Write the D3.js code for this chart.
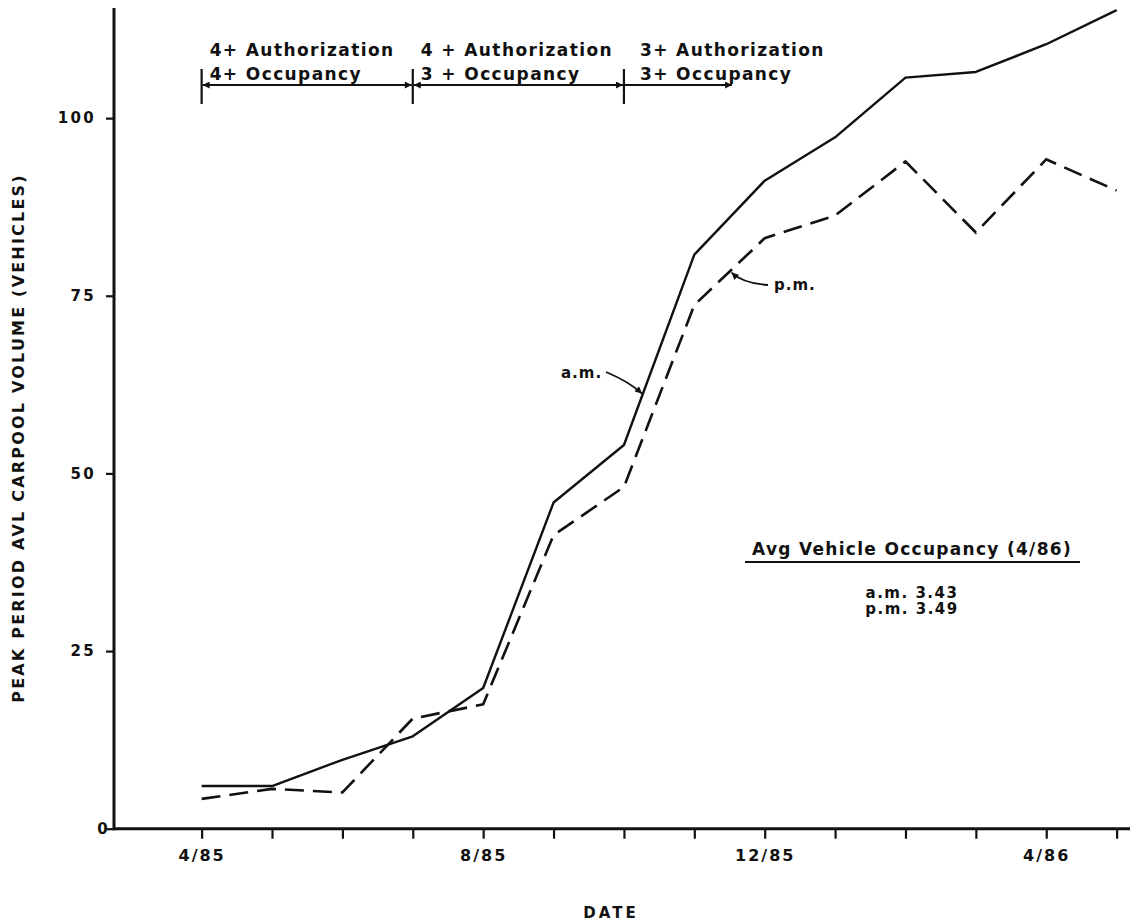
<!DOCTYPE html>
<html><head><meta charset="utf-8">
<script src="https://cdn.jsdelivr.net/npm/d3@7"></script>
<style>
body{margin:0;background:#fff}
svg{display:block}
text{font-family:"DejaVu Sans",sans-serif;fill:#111}
</style>
</head><body><svg id="c" width="1142" height="924"></svg>
<script>
// ---- data ----
const months = ["4/85","5/85","6/85","7/85","8/85","9/85","10/85","11/85","12/85","1/86","2/86","3/86","4/86","5/86"];
const amVolume = [6, 6, 9.7, 13, 19.8, 45.9, 54, 80.8, 91.2, 97.3, 105.7, 106.5, 110.4, 115.2];
const pmVolume = [4.2, 5.6, 5.1, 15.5, 17.5, 41.3, 48.1, 73.7, 83.1, 86.3, 93.9, 83.9, 94.2, 89.8];
const labeledMonths = ["4/85","8/85","12/85","4/86"];
const yTicks = [0, 25, 50, 75, 100];
const phaseStart = [0, 3, 6];
const phaseEnd = [3, 6, 7.55];
const phaseAuth = ["4+ Authorization", "4 + Authorization", "3+ Authorization"];
const phaseOcc = ["4+ Occupancy", "3 + Occupancy", "3+ Occupancy"];
const occTitle = "Avg Vehicle Occupancy (4/86)";
const occLines = ["a.m. 3.43", "p.m. 3.49"];

const svg = d3.select("#c");
const x = d3.scaleLinear().domain([-1.245, 13.19]).range([114, 1130]);
const y = d3.scaleLinear().domain([0, 115.5]).range([828.7, 8]);

// ---- axes ----
const xAxis = d3.axisBottom(x)
  .tickValues(d3.range(months.length))
  .tickSize(10).tickPadding(11)
  .tickFormat(i => labeledMonths.includes(months[i]) ? months[i] : "");
const gx = svg.append("g").attr("transform", `translate(0,${y(0)})`).call(xAxis);
gx.select(".domain").remove();
gx.selectAll(".tick line").attr("stroke", "#111").attr("stroke-width", 2.2);
gx.selectAll(".tick text").attr("font-size", 16).attr("font-weight", "bold")
  .attr("letter-spacing", 2).attr("fill", "#111");

const yAxis = d3.axisLeft(y).tickValues(yTicks).tickSize(8).tickPadding(10);
const gy = svg.append("g").attr("transform", `translate(${x.range()[0]},0)`).call(yAxis);
gy.select(".domain").remove();
gy.selectAll(".tick line").attr("stroke", "#111").attr("stroke-width", 2.2);
gy.selectAll(".tick text").attr("font-size", 15).attr("font-weight", "bold")
  .attr("letter-spacing", 2.3).attr("fill", "#111");
gy.selectAll(".tick").filter(d => d === 0).select("text").attr("x", -4);

// axis lines
svg.append("line").attr("x1", x.range()[0]).attr("x2", x.range()[1])
  .attr("y1", y(0)).attr("y2", y(0)).attr("stroke", "#111").attr("stroke-width", 3);
svg.append("line").attr("x1", x.range()[0]).attr("x2", x.range()[0])
  .attr("y1", y(0) + 1.5).attr("y2", y.range()[1]).attr("stroke", "#111").attr("stroke-width", 3);

// axis titles
svg.append("text").attr("x", 611).attr("y", 918).attr("text-anchor", "middle")
  .attr("font-size", 15).attr("font-weight", "bold").attr("letter-spacing", 3).text("DATE");
svg.append("text").attr("transform", "translate(24,438) rotate(-90)").attr("text-anchor", "middle")
  .attr("font-size", 16).attr("letter-spacing", 2.2).attr("font-weight", "bold")
  .text("PEAK PERIOD AVL CARPOOL VOLUME (VEHICLES)");

// ---- lines ----
const line = d3.line().x((d, i) => x(i)).y(d => y(d));
svg.append("path").datum(amVolume).attr("d", line).attr("fill", "none")
  .attr("stroke", "#111").attr("stroke-width", 2.4).attr("stroke-linejoin", "round");
svg.append("path").datum(pmVolume).attr("d", line).attr("fill", "none")
  .attr("stroke", "#111").attr("stroke-width", 2.6).attr("stroke-dasharray", "19,9");

// ---- arrowheads ----
const defs = svg.append("defs");
defs.append("marker").attr("id", "ah").attr("viewBox", "0 0 10 10").attr("refX", 10).attr("refY", 5)
  .attr("markerWidth", 11).attr("markerHeight", 7).attr("markerUnits", "userSpaceOnUse")
  .attr("orient", "auto-start-reverse")
  .append("path").attr("d", "M0,0 L10,5 L0,10 Z").attr("fill", "#111");

// ---- phase annotations ----
const arrowY = 85;
phaseStart.forEach((s, k) => {
  const xs = x(s), xe = x(phaseEnd[k]);
  svg.append("line").attr("x1", xs).attr("x2", xs).attr("y1", 69).attr("y2", 104)
    .attr("stroke", "#111").attr("stroke-width", 2.2);
  const ln = svg.append("line").attr("x1", xs + 1).attr("x2", xe - 1).attr("y1", arrowY).attr("y2", arrowY)
    .attr("stroke", "#111").attr("stroke-width", 1.8).attr("marker-end", "url(#ah)");
  if (k < 2) ln.attr("marker-start", "url(#ah)");
  const tx = xs + (k === 2 ? 16 : 8);
  svg.append("text").attr("x", tx).attr("y", 56).attr("font-size", 17).attr("font-weight", "bold")
    .attr("letter-spacing", 1.4).text(phaseAuth[k]);
  svg.append("text").attr("x", tx).attr("y", 80).attr("font-size", 17).attr("font-weight", "bold")
    .attr("letter-spacing", 1.4).text(phaseOcc[k]);
});

// ---- a.m. / p.m. callouts ----
function lerp(arr, m) { const i = Math.floor(m), f = m - i; return arr[i] + f * (arr[i + 1] - arr[i]); }
const amM = 6.27, pmM = 7.5;
const amT = [x(amM), y(lerp(amVolume, amM))];
const pmT = [x(pmM), y(lerp(pmVolume, pmM))];
svg.append("text").attr("x", 561).attr("y", 378).attr("font-size", 15).attr("font-weight", "bold")
  .attr("letter-spacing", 1).text("a.m.");
svg.append("path").attr("d", `M606,372 Q${amT[0] - 14},${amT[1] - 12} ${amT[0] - 1},${amT[1]}`)
  .attr("fill", "none").attr("stroke", "#111").attr("stroke-width", 1.8).attr("marker-end", "url(#ah)");
svg.append("text").attr("x", 774).attr("y", 290).attr("font-size", 15).attr("font-weight", "bold")
  .attr("letter-spacing", 1).text("p.m.");
svg.append("path").attr("d", `M768,285 Q${pmT[0] + 14},${pmT[1] + 12} ${pmT[0] + 2},${pmT[1] + 1}`)
  .attr("fill", "none").attr("stroke", "#111").attr("stroke-width", 1.8).attr("marker-end", "url(#ah)");

// ---- occupancy box ----
svg.append("text").attr("x", 912).attr("y", 555).attr("text-anchor", "middle").attr("font-size", 17)
  .attr("font-weight", "bold").attr("letter-spacing", 1.3).text(occTitle);
svg.append("line").attr("x1", 745).attr("x2", 1080).attr("y1", 562).attr("y2", 562)
  .attr("stroke", "#111").attr("stroke-width", 2);
occLines.forEach((t, i) => {
  svg.append("text").attr("x", 912).attr("y", 598 + i * 16).attr("text-anchor", "middle")
    .attr("font-size", 15).attr("font-weight", "bold").attr("letter-spacing", 1.5).text(t);
});
</script>
</body></html>
